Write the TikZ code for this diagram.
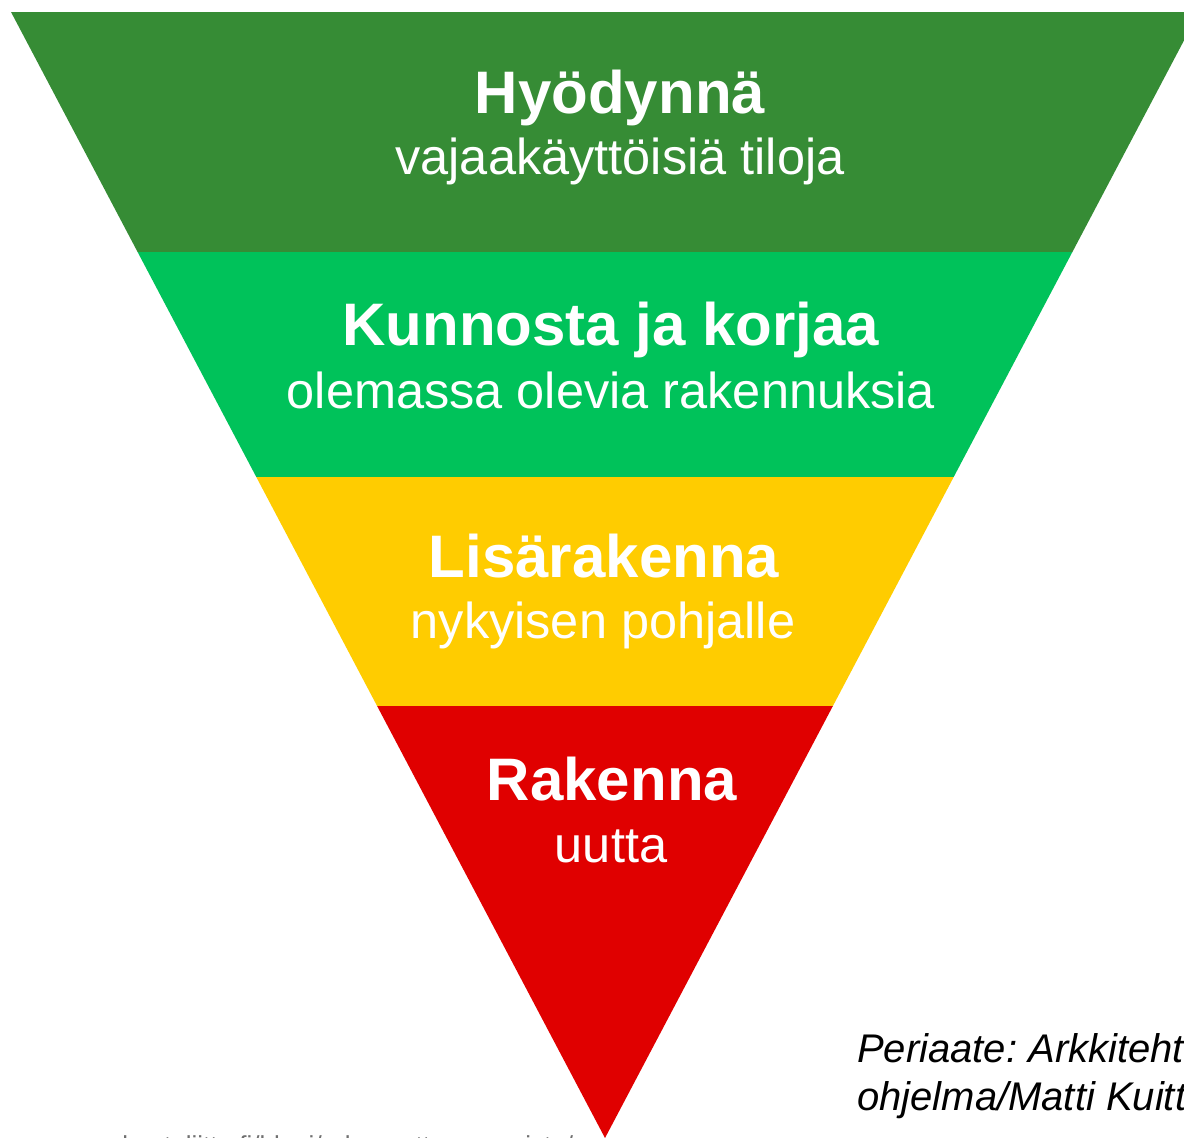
\documentclass[tikz,border=0pt]{standalone}
\usepackage{fontspec}
\setmainfont{Liberation Sans}
\frenchspacing
\definecolor{gdark}{HTML}{368C35}
\definecolor{gbright}{HTML}{00C25A}
\definecolor{ylw}{HTML}{FFCC00}
\definecolor{rd}{HTML}{E00000}
\definecolor{urlgray}{HTML}{707070}
\tikzset{
  head/.style={text=white, inner sep=0pt, anchor=base, font=\fontsize{60}{60}\selectfont\bfseries},
  sub/.style={text=white, inner sep=0pt, anchor=base, font=\fontsize{50.5}{50.5}\selectfont},
  note/.style={text=black, inner sep=0pt, anchor=base west, font=\fontsize{40}{40}\selectfont\itshape},
}
\begin{document}
\begin{tikzpicture}[x=1pt,y=-1pt]
\useasboundingbox (0,0) rectangle (1184,1138);
\begin{scope}
  \clip (11,12) -- (1199,12) -- (605,1138) -- cycle;
  \fill[gdark]   (0,0)   rectangle (1250,252);
  \fill[gbright] (0,252) rectangle (1250,477);
  \fill[ylw]     (0,477) rectangle (1250,706);
  \fill[rd]      (0,706) rectangle (1250,1140);
\end{scope}
\node[head] (h1) at (620,113) {Hyödynnä};
\node[sub]  (s1) at (620,174) {vajaakäyttöisiä tiloja};
\node[head] (h2) at (611,345) {Kunnosta ja korjaa};
\node[sub]  (s2) at (611,408) {olemassa olevia rakennuksia};
\node[head] (h3) at (604,577) {Lisärakenna};
\node[sub]  (s3) at (603,638) {nykyisen pohjalle};
\node[head] (h4) at (612,800) {Rakenna};
\node[sub]  (s4) at (611,862) {uutta};
\begin{scope}
  \clip (0,0) rectangle (1184,1138);
  \node[note] (n1) at (857,1062) {Periaate: Arkkitehtuuri};
  \node[note] (n2) at (857,1110) {ohjelma/Matti Kuittinen};
  \node[inner sep=0pt, anchor=base west, text=urlgray, font=\fontsize{26}{26}\selectfont] (u) at (60,1154) {www.kuntaliitto.fi/blogi/rakennettu-ymparisto/};
\end{scope}
\end{tikzpicture}
\end{document}
